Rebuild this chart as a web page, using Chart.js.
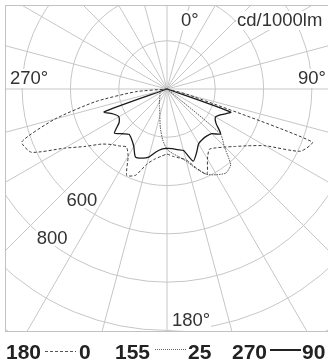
<!DOCTYPE html>
<html>
<head>
<meta charset="utf-8">
<script src="https://cdn.jsdelivr.net/npm/chart.js@4"></script>
<style>
    body {
        margin: 0;
        width: 328px;
        height: 363px;
        overflow: hidden;
        background: #fff;
        font-family: "Liberation Sans", Arial, sans-serif;
    }
    #frame {
        position: absolute;
        left: 5px;
        top: 5px;
        width: 330px;
        height: 325px;
        border: 1px solid #c2c2c2;
        overflow: hidden;
    }
    #frame canvas {
        position: absolute;
        left: -177px;
        top: -255px;
    }
    .axis-label {
        position: absolute;
        font-size: 18.5px;
        line-height: 18.5px;
        color: #333;
        background: #fff;
        padding: 0 1px;
        white-space: nowrap;
    }
    .legend-text {
        position: absolute;
        top: 341px;
        font-size: 21px;
        line-height: 21px;
        font-weight: bold;
        color: #222;
    }
    .legend-line {
        position: absolute;
        height: 1px;
    }
</style>
</head>
<body>
<div id="frame"><canvas id="polarChart" width="676" height="676"></canvas></div>

<div class="axis-label" style="left:180px; top:11px;">0°</div>
<div class="axis-label" style="left:236px; top:11px;">cd/1000lm</div>
<div class="axis-label" style="left:297px; top:69px;">90°</div>
<div class="axis-label" style="left:9px; top:69px;">270°</div>
<div class="axis-label" style="left:171px; top:311px;">180°</div>

<div class="legend-text" style="left:6px;">180</div>
<div class="legend-line" style="left:45px; top:351px; width:31px; background:repeating-linear-gradient(90deg,#555 0 3px,transparent 3px 5px);"></div>
<div class="legend-text" style="left:79px;">0</div>

<div class="legend-text" style="left:115px;">155</div>
<div class="legend-line" style="left:155px; top:349px; width:32px; background:repeating-linear-gradient(90deg,#666 0 1px,transparent 1px 2px);"></div>
<div class="legend-text" style="left:188px;">25</div>

<div class="legend-text" style="left:232px;">270</div>
<div class="legend-line" style="left:270px; top:349px; width:31px; height:1.5px; background:#222;"></div>
<div class="legend-text" style="left:302px;">90</div>

<script>
// Gamma angles, clockwise from the top, 5 degree steps
const angles = [
    0, 5, 10, 15, 20, 25, 30, 35, 40, 45, 50, 55,
    60, 65, 70, 75, 80, 85, 90, 95, 100, 105, 110, 115,
    120, 125, 130, 135, 140, 145, 150, 155, 160, 165, 170, 175,
    180, 185, 190, 195, 200, 205, 210, 215, 220, 225, 230, 235,
    240, 245, 250, 255, 260, 265, 270, 275, 280, 285, 290, 295,
    300, 305, 310, 315, 320, 325, 330, 335, 340, 345, 350, 355
];

// cd/1000lm, C180 - C0 plane (dashed)
const plane180_0 = [
    0, 0, 0, 0, 0, 0, 0, 0, 0, 0, 0, 0,
    0, 0, 0, 0, 0, 0, 0, 0, 0, 90, 640, 610,
    470, 410, 370, 340, 318, 305, 335, 390, 345, 303, 290, 280,
    270, 280, 295, 322, 380, 395, 322, 293, 308, 325, 355, 415,
    490, 620, 640, 480, 300, 130, 0, 0, 0, 0, 0, 0,
    0, 0, 0, 0, 0, 0, 0, 0, 0, 0, 0, 0
];

// cd/1000lm, C155 - C25 plane (dotted)
const plane155_25 = [
    0, 0, 0, 0, 0, 0, 0, 0, 0, 0, 0, 0,
    0, 0, 0, 0, 0, 0, 0, 0, 0, 0, 0, 0,
    0, 0, 288, 335, 410, 425, 410, 390, 350, 310, 285, 268,
    250, 210, 160, 115, 88, 75, 63, 54, 46, 42, 38, 36,
    33, 31, 28, 25, 20, 10, 0, 0, 0, 0, 0, 0,
    0, 0, 0, 0, 0, 0, 0, 0, 0, 0, 0, 0
];

// cd/1000lm, C270 - C90 plane (solid)
const plane270_90 = [
    0, 0, 0, 0, 0, 0, 0, 0, 0, 0, 0, 0,
    0, 0, 0, 0, 0, 0, 0, 0, 0, 0, 281, 250,
    232, 248, 290, 262, 255, 255, 262, 290, 318, 264, 255, 248,
    246, 250, 265, 292, 305, 310, 275, 255, 245, 262, 284, 242,
    230, 245, 277, 0, 0, 0, 0, 0, 0, 0, 0, 0,
    0, 0, 0, 0, 0, 0, 0, 0, 0, 0, 0, 0
];

// Ring labels drawn on the lower left
const ringLabels = ['600', '800'];
const ringLabelValues = [600, 800];
const ringLabelAngle = 218;

const gridColor = '#c6c6c6';

const ringLabelPlugin = {
    id: 'ringLabels',
    afterDraw(chart) {
        const scale = chart.scales.r;
        const ctx = chart.ctx;
        const a = ringLabelAngle * Math.PI / 180;
        ctx.save();
        ctx.font = '18.5px "Liberation Sans", Arial, sans-serif';
        ctx.textAlign = 'center';
        ctx.textBaseline = 'middle';
        ringLabelValues.forEach((value, i) => {
            const d = scale.getDistanceFromCenterForValue(value);
            const x = scale.xCenter + d * Math.sin(a) + 4;
            const y = scale.yCenter - d * Math.cos(a) - 3;
            const w = ctx.measureText(ringLabels[i]).width;
            ctx.fillStyle = '#fff';
            ctx.fillRect(x - w / 2 - 1, y - 8, w + 2, 16);
            ctx.fillStyle = '#333';
            ctx.fillText(ringLabels[i], x, y + 1);
        });
        ctx.restore();
    }
};

const ctx = document.getElementById('polarChart').getContext('2d');

new Chart(ctx, {
    type: 'radar',
    data: {
        labels: angles,
        datasets: [
            {
                label: '180 - 0',
                data: plane180_0,
                borderColor: '#3a3a3a',
                borderWidth: 1,
                borderDash: [3, 2]
            },
            {
                label: '155 - 25',
                data: plane155_25,
                borderColor: '#444',
                borderWidth: 0.9,
                borderDash: [1.5, 1]
            },
            {
                label: '270 - 90',
                data: plane270_90,
                borderColor: '#1a1a1a',
                borderWidth: 1.3
            }
        ]
    },
    options: {
        responsive: false,
        animation: false,
        layout: { padding: 0 },
        elements: {
            line: { fill: false, tension: 0.2 },
            point: { radius: 0, hoverRadius: 0 }
        },
        plugins: {
            legend: { display: false },
            tooltip: { enabled: false }
        },
        scales: {
            r: {
                min: 0,
                max: 1400,
                ticks: { display: false, stepSize: 200 },
                pointLabels: { display: false },
                grid: { circular: true, color: gridColor, lineWidth: 1 },
                angleLines: {
                    color: gridColor,
                    // spokes every 15 degrees only
                    lineWidth: (c) => (c.index % 3 === 0 ? 1 : 0)
                }
            }
        }
    },
    plugins: [ringLabelPlugin]
});
</script>
</body>
</html>
